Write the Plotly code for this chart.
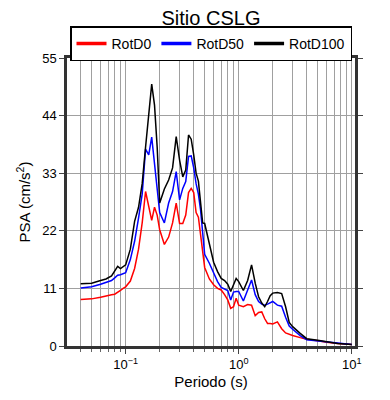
import plotly.graph_objects as go

periods = [0.04, 0.05, 0.06, 0.067, 0.075, 0.08, 0.085, 0.09, 0.095, 0.10,
           0.11, 0.12, 0.13, 0.14, 0.15, 0.16, 0.17, 0.18, 0.19, 0.20,
           0.22, 0.24, 0.26, 0.28, 0.30, 0.32, 0.34, 0.36, 0.38, 0.40,
           0.42, 0.44, 0.46, 0.48, 0.50, 0.55, 0.60, 0.65, 0.70, 0.75,
           0.80, 0.85, 0.90, 0.95, 1.0, 1.1, 1.2, 1.3, 1.4, 1.5,
           1.6, 1.7, 1.8, 1.9, 2.0, 2.2, 2.4, 2.6, 2.8, 3.0,
           3.5, 4.0, 5.0, 6.0, 7.5, 10.0]

rotd100 = [11.9, 12.0, 12.5, 12.8, 13.4, 14.3, 15.2, 14.8, 15.2, 15.5,
           18.5, 23.8, 26.5, 31.0, 38.0, 44.0, 50.0, 46.0, 38.0, 27.3,
           30.0, 31.7, 34.0, 40.0, 35.5, 32.3, 33.6, 40.3, 39.5, 36.5,
           33.0, 31.5, 28.0, 23.5, 23.4, 19.8, 16.0, 14.2, 12.9, 12.5,
           11.8, 10.4, 11.8, 12.9, 12.3, 10.6, 12.5, 15.5, 12.0, 9.4,
           8.2, 7.5, 8.5, 9.6, 10.1, 10.2, 10.0, 7.5, 4.5, 3.7,
           2.4, 1.4, 1.1, 0.8, 0.5, 0.3]

rotd50 = [11.1, 11.3, 11.8, 12.1, 12.5, 13.0, 13.5, 13.6, 13.8, 14.0,
          16.5, 20.0, 24.4, 29.0, 37.6, 36.5, 39.9, 34.5, 30.5, 25.5,
          23.5, 27.3, 29.5, 33.3, 27.9, 30.1, 31.4, 36.2, 36.3, 34.0,
          31.0, 29.0, 26.0, 21.0, 17.5, 15.8, 13.8, 12.3, 11.2, 10.9,
          10.6, 8.8, 10.3, 10.4, 10.4, 8.6, 10.5, 12.6, 9.8, 8.5,
          8.0, 7.8, 8.0, 8.3, 8.5, 7.8, 7.6, 5.5, 3.8, 3.2,
          2.0, 1.2, 1.0, 0.75, 0.5, 0.3]

rotd0 = [8.9, 9.0, 9.3, 9.6, 9.8, 9.9, 10.2, 10.6, 11.0, 11.3,
         12.4, 14.8, 18.5, 23.5, 29.5, 26.6, 24.0, 26.5, 25.0, 22.2,
         19.4, 20.8, 23.5, 27.3, 23.4, 23.4, 25.0, 29.3, 30.1, 29.3,
         25.5, 24.6, 21.0, 18.6, 15.0, 12.8, 11.7, 11.0, 10.7, 9.8,
         8.8, 7.2, 7.5, 9.1, 7.8, 7.5, 7.9, 7.8, 5.8, 6.4,
         6.5, 5.2, 4.3, 4.3, 4.2, 4.6, 3.3, 2.5, 2.2, 2.0,
         1.6, 1.3, 1.0, 0.7, 0.5, 0.3]

series_names = ["RotD0", "RotD50", "RotD100"]
series_colors = ["#ff0000", "#0000ff", "#000000"]
y_ticks = [0, 11, 22, 33, 44, 55]
x_tickvals = [0.1, 1, 10]
x_ticktext = ["10<sup>\u22121</sup>", "10<sup>0</sup>", "10<sup>1</sup>"]

fig = go.Figure()
for name, vals, col in zip(series_names, [rotd0, rotd50, rotd100], series_colors):
    fig.add_trace(go.Scatter(x=periods, y=vals, mode="lines", name=name,
                             showlegend=False,
                             line=dict(color=col, width=1.5)))
# legend samples (thicker lines, as in the reference legend)
for name, col in zip(series_names, series_colors):
    fig.add_trace(go.Scatter(x=[None], y=[None], mode="lines", name=name,
                             line=dict(color=col, width=3.5)))

font_family = "Liberation Sans, Arial, Helvetica, sans-serif"
fig.update_layout(
    width=390, height=400,
    margin=dict(l=59, r=43, t=50, b=62),
    paper_bgcolor="white", plot_bgcolor="white",
    font=dict(family=font_family, size=13, color="black"),
    title=dict(text="Sitio CSLG", x=0.5, xref="paper", xanchor="center",
               y=0.975, yref="container", yanchor="middle",
               font=dict(size=20, color="black")),
    legend=dict(orientation="h", x=0.5, xanchor="center", y=1.110, yanchor="top",
                bordercolor="black", borderwidth=1.5, bgcolor="white",
                font=dict(size=14), itemwidth=30,
                tracegroupgap=0),
    showlegend=True,
)
fig.update_xaxes(
    type="log", range=[-1.519, 1.029],
    tickmode="array", tickvals=x_tickvals, ticktext=x_ticktext,
    ticks="outside", ticklen=5, tickcolor="#444", tickwidth=1,
    showline=True, linecolor="#333", linewidth=2.5, mirror="allticks",
    showgrid=True, gridcolor="#a0a0a0", gridwidth=1,
    minor=dict(dtick="D1", showgrid=True, gridcolor="#a0a0a0", gridwidth=1,
               ticks="outside", ticklen=3, tickcolor="#666"),
    title=dict(text="Periodo (s)", font=dict(size=15), standoff=6),
    tickfont=dict(size=13), zeroline=False,
)
fig.update_yaxes(
    range=[0, 55], tickmode="array", tickvals=y_ticks,
    ticks="outside", ticklen=5, tickcolor="#444",
    showline=True, linecolor="#333", linewidth=2.5, mirror="allticks",
    showgrid=True, gridcolor="#a0a0a0", gridwidth=1,
    title=dict(text="PSA (cm/s<sup>2</sup>)", font=dict(size=15), standoff=8),
    tickfont=dict(size=13), zeroline=False,
)

fig.write_html("out.html")
